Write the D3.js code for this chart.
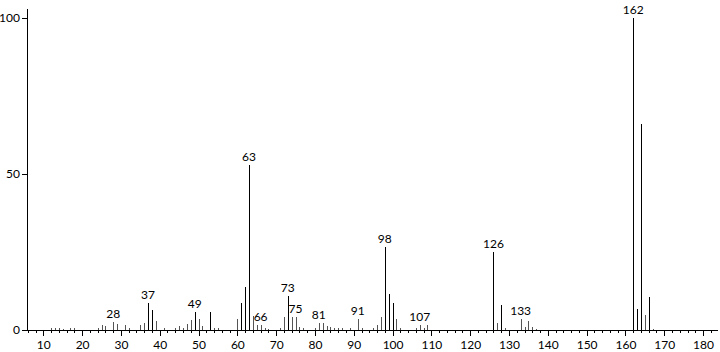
<!DOCTYPE html>
<html>
<head>
<meta charset="utf-8">
<script src="https://cdn.jsdelivr.net/npm/d3@7"></script>
<style>
  body { margin: 0; background: #fff; }
  #container { width: 720px; height: 352px; }
  text { font-family: Lato, "DejaVu Sans", sans-serif; font-size: 12px; fill: #000; }
</style>
</head>
<body>
<div id="container"></div>
<script>
const width = 720;
const height = 352;

// m/z and relative intensity
const masses = [12, 13, 14, 15, 17, 18, 24, 25, 26, 28, 29, 31, 32, 35, 36, 37, 38, 39, 41, 44, 45, 46, 47, 48, 49, 50, 51, 53, 54, 55,
  60, 61, 62, 63, 64, 65, 66, 67, 68, 71, 72, 73, 74, 75, 76, 77, 80, 81, 82, 83, 84, 85, 86, 87, 89, 91, 92, 95, 96, 97, 98, 99, 100, 101, 102,
  106, 107, 108, 109, 126, 127, 128, 129, 133, 134, 135, 136, 137, 162, 163, 164, 165, 166, 167];
const intensities = [0.6, 0.8, 0.8, 0.4, 0.5, 0.8, 0.6, 1.5, 1.2, 2.6, 1.9, 1.6, 0.8, 1.6, 2.3, 8.5, 6.4, 2.9, 0.6, 0.8, 1.2, 0.8, 2.0, 3.2, 5.9, 3.4, 1.3, 5.9, 0.8, 0.6,
  3.4, 8.8, 13.9, 53, 4.5, 1.6, 1.6, 0.6, 0.4, 0.8, 4.1, 10.9, 4.1, 4.1, 1.0, 0.5, 0.8, 2.3, 2.3, 1.2, 1.0, 0.8, 0.5, 0.5, 0.8, 3.4, 0.5, 0.8, 1.6, 4.1, 26.5, 11.4, 8.8, 3.4, 0.5,
  0.5, 1.6, 0.8, 1.6, 25, 2.3, 8, 0.8, 3.6, 1.1, 2.8, 0.9, 0.4, 100, 6.7, 66, 4.8, 10.5, 0.4];
const labelled = [28, 37, 49, 63, 66, 73, 75, 81, 91, 98, 107, 126, 133, 162];

const xTicks = [10, 20, 30, 40, 50, 60, 70, 80, 90, 100, 110, 120, 130, 140, 150, 160, 170, 180];
const yTicks = [0, 50, 100];

const peaks = masses.map((m, i) => ({mz: m, value: intensities[i]}));

const x = d3.scaleLinear().domain([5.8, 183.6]).range([27, 717]);
const y = d3.scaleLinear().domain([0, 103.2]).range([330, 8]);

const svg = d3.create("svg")
    .attr("width", width)
    .attr("height", height)
    .attr("viewBox", `0 0 ${width} ${height}`)
    .attr("xmlns", "http://www.w3.org/2000/svg");

// minor ticks every 2 units
const minor = d3.range(6, 184, 2).filter(v => v % 10 !== 0);
svg.append("g")
    .attr("transform", `translate(0,${y(0)})`)
    .call(d3.axisBottom(x).tickValues(minor).tickSize(3).tickFormat(""))
    .call(g => g.select(".domain").remove())
    .call(g => g.selectAll("line").attr("shape-rendering", "crispEdges"));

const xAxis = svg.append("g")
    .attr("transform", `translate(0,${y(0)})`)
    .call(d3.axisBottom(x).tickValues(xTicks).tickSize(6).tickSizeOuter(0).tickPadding(4))
    .call(g => g.select(".domain").attr("shape-rendering", "crispEdges"))
    .call(g => g.selectAll("line").attr("shape-rendering", "crispEdges"));
xAxis.selectAll("text").attr("font-size", 12).attr("font-family", "Lato, sans-serif").attr("fill", "#000");

const yAxis = svg.append("g")
    .attr("transform", `translate(${x.range()[0]},0)`)
    .call(d3.axisLeft(y).tickValues(yTicks).tickSize(5).tickSizeOuter(0).tickPadding(2))
    .call(g => g.select(".domain").attr("shape-rendering", "crispEdges"))
    .call(g => g.selectAll("line").attr("shape-rendering", "crispEdges"));
yAxis.selectAll("text").attr("font-size", 12).attr("font-family", "Lato, sans-serif").attr("fill", "#000");

// peaks
svg.append("g")
    .attr("stroke", "#000")
    .attr("stroke-width", 1)
    .attr("shape-rendering", "crispEdges")
  .selectAll("line")
  .data(peaks)
  .join("line")
    .attr("x1", d => Math.round(x(d.mz)) + 0.5)
    .attr("x2", d => Math.round(x(d.mz)) + 0.5)
    .attr("y1", y(0))
    .attr("y2", d => y(d.value))
    .attr("stroke", d => d.value > 5 ? "#000" : "#555");

// peak labels
svg.append("g")
  .selectAll("text")
  .data(peaks.filter(d => labelled.includes(d.mz)))
  .join("text")
    .attr("x", d => x(d.mz))
    .attr("y", d => y(d.value) - 4)
    .attr("text-anchor", "middle")
    .text(d => d.mz);

document.getElementById("container").append(svg.node());
</script>
</body>
</html>
